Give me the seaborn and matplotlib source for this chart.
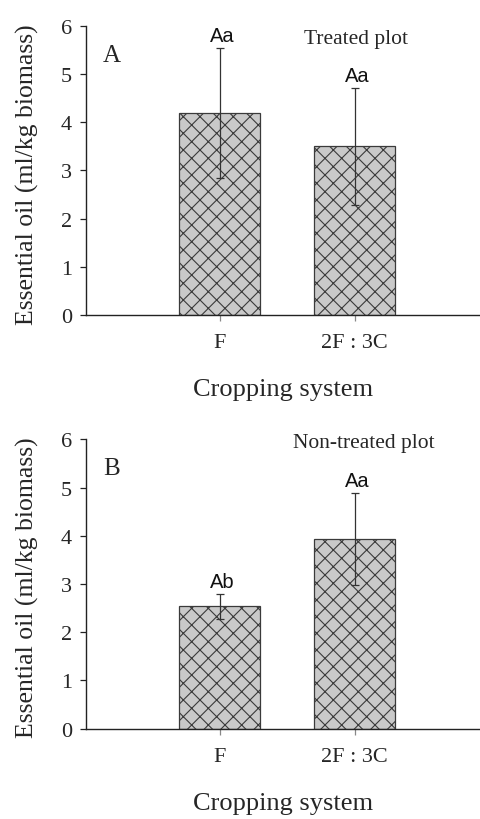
import matplotlib
matplotlib.use("Agg")
import matplotlib.pyplot as plt
import seaborn as sns
import pandas as pd

categories = ["F", "2F : 3C"]
treated_values = [4.19, 3.50]
treated_errors = [1.35, 1.21]
treated_letters = ["Aa", "Aa"]
nontreated_values = [2.54, 3.93]
nontreated_errors = [0.26, 0.96]
nontreated_letters = ["Ab", "Aa"]
yticks = [0, 1, 2, 3, 4, 5, 6]

sns.set_style("white")
plt.rcParams['hatch.linewidth'] = 0.8
plt.rcParams['hatch.color'] = '#222222'

serif = ["Liberation Serif", "DejaVu Serif"]
sans = ["Liberation Sans", "DejaVu Sans"]

fig = plt.figure(figsize=(4.8, 8.2), dpi=100)
axA = fig.add_axes([0.179, 0.6143, 0.821, 0.3532])
axB = fig.add_axes([0.179, 0.1101, 0.821, 0.3529])

def panel(ax, vals, errs, letters, tag):
    df = pd.DataFrame({"cat": categories, "val": vals})
    sns.barplot(data=df, x="cat", y="val", ax=ax, color="#c9c9c9",
                saturation=1, width=0.6, errorbar=None,
                edgecolor="#3a3a3a", linewidth=0.9, zorder=2)
    for p in ax.patches:
        p.set_hatch("xx")
    ax.errorbar(range(len(vals)), vals, yerr=errs, fmt="none",
                ecolor="#333333", elinewidth=0.9, capsize=3,
                capthick=0.9, zorder=3)
    for i, (v, e, l) in enumerate(zip(vals, errs, letters)):
        ax.text(i + 0.02, v + e + 0.135, l, ha="center", va="baseline",
                fontsize=14.5, family=sans, color="#111111")
    ax.set_xlim(-0.993, 1.93)
    ax.set_ylim(0, 6)
    ax.set_yticks(yticks)
    ax.set_yticklabels([str(t) for t in yticks], family=serif, fontsize=16)
    ax.set_xticks(range(len(categories)))
    ax.set_xticklabels(categories, family=serif, fontsize=16)
    ax.set_xlabel("Cropping system", family=serif, fontsize=19)
    ax.xaxis.set_label_coords(0.5, -0.218)
    ax.set_ylabel("Essential oil (ml/kg biomass)", family=serif, fontsize=18.5)
    ax.yaxis.set_label_coords(-0.118, 0.49)
    for s in ["top", "right"]:
        ax.spines[s].set_visible(False)
    for s in ["left", "bottom"]:
        ax.spines[s].set_color("#222222")
        ax.spines[s].set_linewidth(1.0)
    ax.tick_params(axis="y", direction="out", length=4, width=0.9,
                   left=True, color="#222222", pad=6)
    ax.tick_params(axis="x", direction="out", length=4, width=0.9,
                   bottom=True, color="#888888", pad=9)
    ax.text(0.043, 0.90, tag, transform=ax.transAxes, family=serif,
            fontsize=18, ha="left", va="center")
    return ax

panel(axA, treated_values, treated_errors, treated_letters, "A")
axA.text(1.01, 5.74, "Treated plot", family=serif, fontsize=15.5,
         ha="center", va="center")
panel(axB, nontreated_values, nontreated_errors, nontreated_letters, "B")
axB.text(1.07, 5.93, "Non-treated plot", family=serif, fontsize=15.5,
         ha="center", va="center")

fig.savefig("out.png", dpi=100)
